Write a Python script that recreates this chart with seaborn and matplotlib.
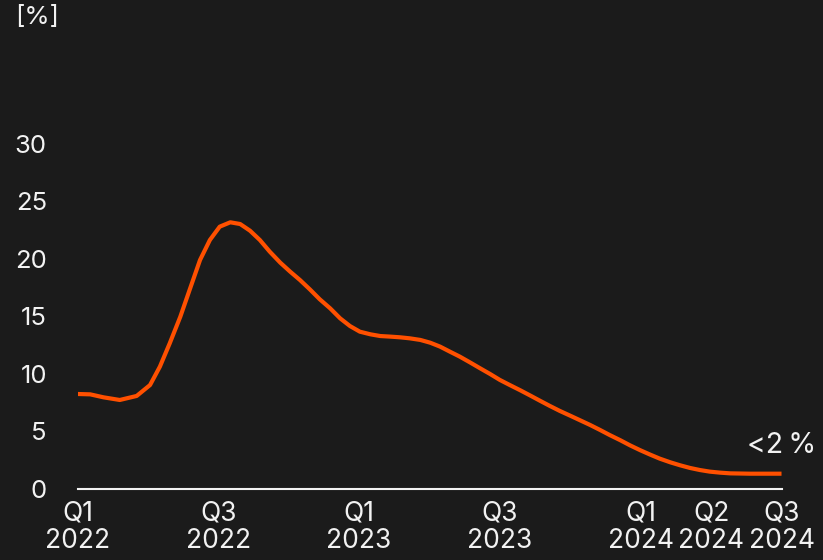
import matplotlib
matplotlib.use("Agg")
import matplotlib.pyplot as plt
import pandas as pd
import seaborn as sns

# position in quarters since Q1 2022, every ~1/7 quarter
quarter_pos = [0, 0.18, 0.37, 0.6, 0.84, 1.03, 1.17, 1.31, 1.46, 1.6,
               1.74, 1.88, 2.02, 2.17, 2.31, 2.45, 2.59, 2.73, 2.88, 3.02,
               3.16, 3.3, 3.44, 3.59, 3.73, 3.87, 4.01, 4.16, 4.3, 4.44,
               4.58, 4.72, 4.87, 5.01, 5.15, 5.29, 5.43, 5.58, 5.72, 5.86,
               6.0, 6.14, 6.29, 6.43, 6.57, 6.71, 6.85, 7.0, 7.14, 7.28,
               7.42, 7.56, 7.71, 7.85, 7.99, 8.13, 8.27, 8.42, 8.56, 8.7,
               8.84, 8.98, 9.13, 9.27, 9.55, 9.84, 10]
share_pct = [8.26, 8.23, 7.97, 7.74, 8.09, 9.04, 10.64, 12.67, 14.98, 17.45,
             19.91, 21.65, 22.81, 23.19, 23.04, 22.46, 21.65, 20.64, 19.68, 18.9,
             18.17, 17.36, 16.5, 15.7, 14.84, 14.17, 13.68, 13.45, 13.3, 13.25,
             13.19, 13.1, 12.96, 12.72, 12.38, 11.94, 11.51, 10.99, 10.49, 10.0,
             9.48, 9.04, 8.58, 8.13, 7.67, 7.22, 6.79, 6.37, 5.97, 5.57,
             5.14, 4.69, 4.24, 3.79, 3.38, 3.0, 2.64, 2.32, 2.06, 1.83,
             1.65, 1.51, 1.42, 1.36, 1.33, 1.33, 1.33]

tick_pos = [0, 2, 4, 6, 8, 9, 10]
tick_labels = ["Q1\n2022", "Q3\n2022", "Q1\n2023", "Q3\n2023",
               "Q1\n2024", "Q2\n2024", "Q3\n2024"]
y_ticks = [0, 5, 10, 15, 20, 25, 30]

BG = "#1b1b1b"
ORANGE = "#ff5000"
WHITE = "#f2f2f2"

sns.set_theme(style="dark")
plt.rcParams["font.family"] = ["Inter", "DejaVu Sans"]

df = pd.DataFrame({"quarter": quarter_pos, "share": share_pct})

fig = plt.figure(figsize=(8.23, 5.6), dpi=100, facecolor=BG)
ax = fig.add_axes([0.0942, 0.1268, 0.8554, 0.6161])
ax.set_facecolor(BG)

sns.lineplot(data=df, x="quarter", y="share", color=ORANGE, linewidth=3,
             ax=ax, solid_joinstyle="round", solid_capstyle="butt")

ax.set_xlim(0, 10)
ax.set_ylim(0, 30)
ax.set_xticks(tick_pos)
ax.set_xticklabels(tick_labels, linespacing=1.1)
ax.set_yticks(y_ticks)
ax.set_xlabel("")
ax.set_ylabel("")
ax.grid(False)

ax.tick_params(axis="x", length=0, pad=8, labelsize=19, colors=WHITE)
ax.tick_params(axis="y", length=0, pad=22, labelsize=18.5, colors=WHITE)

for side in ["top", "right", "left"]:
    ax.spines[side].set_visible(False)
ax.spines["bottom"].set_color(WHITE)
ax.spines["bottom"].set_linewidth(1.5)

ax.annotate("<2\u2009%", xy=(quarter_pos[-1], share_pct[-1]), xytext=(0, 15),
            textcoords="offset points", ha="center", va="baseline",
            fontsize=20.5, color=WHITE)

fig.text(15 / 823, 1 - 6 / 560, "[%]", ha="left", va="top",
         fontsize=18.5, color=WHITE)

fig.savefig("out.png", dpi=100, facecolor=BG)
